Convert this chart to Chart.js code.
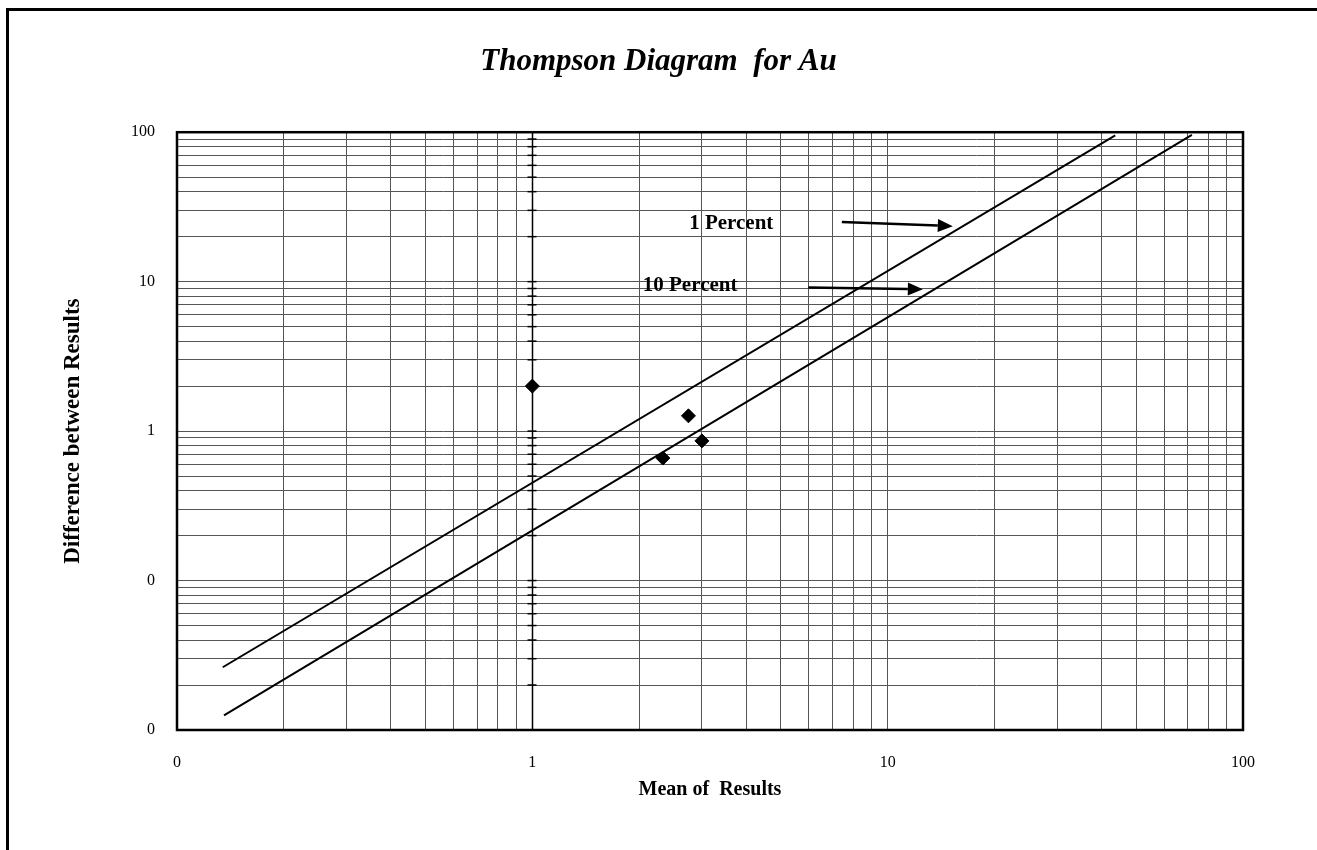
<!DOCTYPE html>
<html>

<head>
    <title>Thompson Diagram for Au</title>
    <script src="https://cdn.jsdelivr.net/npm/chart.js"></script>
    <style>
        body { margin: 0; background: #fff; overflow: hidden; }
        #frame { position: absolute; left: 6px; top: 8px; width: 1400px; height: 1000px; border: 3px solid #000; }
        #thompsonChart { position: absolute; left: 0; top: 0; }
    </style>
</head>

<body>
    <div id="frame"></div>
    <canvas id="thompsonChart" width="1317" height="850"></canvas>
    <script>
        // sample pairs: mean of results vs difference between results
        const meanResults = [1.0, 2.33, 2.75, 3.0];
        const diffResults = [2.0, 0.66, 1.265, 0.86];

        // precision lines (end points)
        const onePctX = [0.1345, 43.7];
        const onePctY = [0.0263, 95.1];
        const tenPctX = [0.1356, 71.8];
        const tenPctY = [0.01254, 95.9];

        // axis decades and their printed labels (Excel 0-decimal format)
        const xMajor = [0.1, 1, 10, 100];
        const xTickLabels = ['0', '1', '10', '100'];
        const yMajor = [0.01, 0.1, 1, 10, 100];
        const yTickLabels = ['0', '0', '1', '10', '100'];

        const FONT = '"Liberation Serif", "Times New Roman", serif';

        // gridlines at 1..9 of every decade
        function gridValues(majors) {
            const vals = [];
            for (let i = 0; i < majors.length - 1; i++) {
                for (let m = 1; m < 10; m++) vals.push(m * majors[i]);
            }
            vals.push(majors[majors.length - 1]);
            return vals;
        }

        function labelFor(value, majors, labels) {
            for (let i = 0; i < majors.length; i++) {
                if (Math.abs(Math.log10(value) - Math.log10(majors[i])) < 1e-9) return labels[i];
            }
            return '';
        }

        const toPoints = (xs, ys) => xs.map((x, i) => ({ x: x, y: ys[i] }));

        // text + arrow annotations, placed in data space
        const notes = [
            { text: '1 Percent', x: 3.63, y: 24.6, from: [7.43, 25.1], to: [15.25, 23.5] },
            { text: '10 Percent', x: 2.78, y: 9.48, from: [5.98, 9.15], to: [12.56, 8.91] }
        ];

        const diagramPlugin = {
            id: 'diagram',
            beforeDatasetsDraw(chart) {
                // the vertical axis line crossing at x = 1, with its tick marks
                const ctx = chart.ctx, area = chart.chartArea;
                const xs = chart.scales.x, ys = chart.scales.y;
                const px = Math.round(xs.getPixelForValue(1)) + 0.5;
                ctx.save();
                ctx.strokeStyle = '#000';
                ctx.lineWidth = 1.5;
                ctx.beginPath();
                ctx.moveTo(px, area.top);
                ctx.lineTo(px, area.bottom);
                ctx.stroke();
                ctx.lineWidth = 1.5;
                ys.ticks.forEach(t => {
                    const py = ys.getPixelForValue(t.value);
                    ctx.beginPath();
                    ctx.moveTo(px - 5, py);
                    ctx.lineTo(px + 4, py);
                    ctx.stroke();
                });
                ctx.restore();
            },
            afterDraw(chart) {
                const ctx = chart.ctx, area = chart.chartArea;
                const xs = chart.scales.x, ys = chart.scales.y;
                ctx.save();
                ctx.strokeStyle = '#000';
                ctx.lineWidth = 2.5;
                ctx.strokeRect(area.left, area.top, area.right - area.left, area.bottom - area.top);

                ctx.fillStyle = '#000';
                ctx.font = 'bold 21px ' + FONT;
                ctx.textAlign = 'center';
                ctx.textBaseline = 'middle';
                notes.forEach(n => {
                    ctx.fillText(n.text, xs.getPixelForValue(n.x), ys.getPixelForValue(n.y));
                    const x1 = xs.getPixelForValue(n.from[0]), y1 = ys.getPixelForValue(n.from[1]);
                    const x2 = xs.getPixelForValue(n.to[0]), y2 = ys.getPixelForValue(n.to[1]);
                    const ang = Math.atan2(y2 - y1, x2 - x1);
                    const head = 15, half = 6.5;
                    const bx = x2 - head * Math.cos(ang), by = y2 - head * Math.sin(ang);
                    ctx.lineWidth = 2.5;
                    ctx.beginPath();
                    ctx.moveTo(x1, y1);
                    ctx.lineTo(bx, by);
                    ctx.stroke();
                    ctx.beginPath();
                    ctx.moveTo(x2, y2);
                    ctx.lineTo(bx + half * Math.sin(ang), by - half * Math.cos(ang));
                    ctx.lineTo(bx - half * Math.sin(ang), by + half * Math.cos(ang));
                    ctx.closePath();
                    ctx.fill();
                });
                ctx.restore();
            }
        };

        const ctx = document.getElementById('thompsonChart').getContext('2d');
        const chart = new Chart(ctx, {
            type: 'scatter',
            data: {
                datasets: [{
                    label: 'Samples',
                    data: toPoints(meanResults, diffResults),
                    pointStyle: 'rectRot',
                    pointRadius: 7,
                    backgroundColor: '#000',
                    borderColor: '#000',
                    showLine: false
                }, {
                    label: '1 Percent',
                    data: toPoints(onePctX, onePctY),
                    showLine: true,
                    borderColor: '#000',
                    borderWidth: 2,
                    pointRadius: 0
                }, {
                    label: '10 Percent',
                    data: toPoints(tenPctX, tenPctY),
                    showLine: true,
                    borderColor: '#000',
                    borderWidth: 2,
                    pointRadius: 0
                }]
            },
            options: {
                responsive: false,
                animation: false,
                devicePixelRatio: 1,
                layout: { padding: 0 },
                plugins: {
                    legend: { display: false },
                    tooltip: { enabled: false },
                    title: {
                        display: true,
                        text: 'Thompson Diagram  for Au',
                        color: '#000',
                        font: { family: FONT, size: 31, style: 'italic', weight: 'bold' },
                        padding: { top: 43, bottom: 52 }
                    }
                },
                scales: {
                    x: {
                        type: 'logarithmic',
                        position: 'bottom',
                        min: 0.1,
                        max: 100,
                        afterBuildTicks: (scale) => {
                            scale.ticks = gridValues(xMajor).map(v => ({ value: v }));
                        },
                        afterFit: (scale) => { scale.height = 120; },
                        grid: { color: '#555', lineWidth: 1, drawTicks: false },
                        border: { display: false },
                        ticks: {
                            autoSkip: false,
                            maxRotation: 0,
                            padding: 23,
                            color: '#000',
                            font: { family: FONT, size: 16 },
                            callback: (v) => labelFor(v, xMajor, xTickLabels)
                        },
                        title: {
                            display: true,
                            text: 'Mean of  Results',
                            color: '#000',
                            font: { family: FONT, size: 20, weight: 'bold' },
                            padding: { top: 0, bottom: 48 }
                        }
                    },
                    y: {
                        type: 'logarithmic',
                        position: 'left',
                        min: 0.01,
                        max: 100,
                        afterBuildTicks: (scale) => {
                            scale.ticks = gridValues(yMajor).map(v => ({ value: v }));
                        },
                        afterFit: (scale) => { scale.width = 177; },
                        grid: { color: '#555', lineWidth: 1, drawTicks: false },
                        border: { display: false },
                        ticks: {
                            autoSkip: false,
                            padding: 22,
                            color: '#000',
                            font: { family: FONT, size: 16 },
                            callback: (v) => labelFor(v, yMajor, yTickLabels)
                        },
                        title: {
                            display: true,
                            text: 'Difference between Results',
                            color: '#000',
                            font: { family: FONT, size: 23, weight: 'bold' },
                            padding: { top: 59, bottom: 0 }
                        }
                    },
                    // empty right-hand box that keeps the plot's right margin
                    spacer: {
                        type: 'linear',
                        position: 'right',
                        afterFit: (scale) => { scale.width = 74; },
                        grid: { display: false, drawTicks: false },
                        border: { display: false },
                        ticks: { display: false }
                    }
                }
            },
            plugins: [diagramPlugin]
        });
    </script>
</body>

</html>
